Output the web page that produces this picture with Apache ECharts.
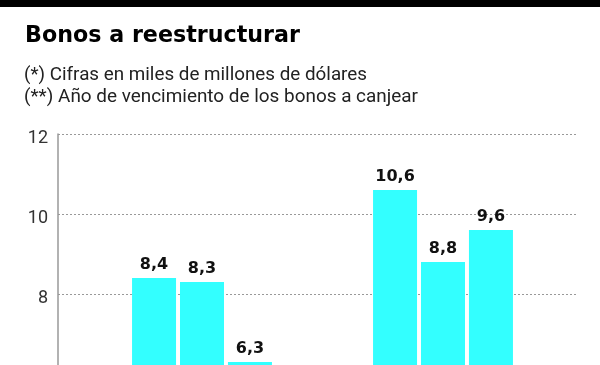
<!DOCTYPE html>
<html>
<head>
<meta charset="utf-8">
<script src="https://cdn.jsdelivr.net/npm/echarts@6/dist/echarts.min.js"></script>
<style>
html,body{margin:0;padding:0;background:#fff;}
#c{width:600px;height:365px;}
</style>
</head>
<body>
<div id="c"></div>
<script>
var titleText = "Bonos a reestructurar";
var subtitleLines = ["(*) Cifras en miles de millones de dólares", "(**) Año de vencimiento de los bonos a canjear"];
var categories = ["Grupo 1", "Grupo 2"];
var seriesA = [8.4, 10.6];
var seriesB = [8.3, 8.8];
var seriesC = [6.3, 9.6];
var yTicks = [6, 8, 10, 12];

var chart = echarts.init(document.getElementById('c'), null, {renderer: 'canvas'});
var ctx = document.createElement('canvas').getContext('2d');
function widthOf(text, font){ ctx.font = font; return ctx.measureText(text).width; }
var titleFont = 'bold 23px "DejaVu Sans", sans-serif';
var subFont = '18px Roboto, sans-serif';
var titleScale = 275 / widthOf(titleText, titleFont);
var sub1Scale = 343 / widthOf(subtitleLines[0], subFont);
var sub2Scale = 394 / widthOf(subtitleLines[1], subFont);
var barColor = '#33ffff';
function fmt(v){ return String(v).replace('.', ','); }
function mk(data){
  return {
    type: 'bar', xAxisIndex: 1, yAxisIndex: 1, data: data,
    barWidth: 44, barGap: '9%',
    itemStyle: {color: barColor},
    label: {show: true, position: 'top', distance: 5, color: '#111', fontFamily: '"DejaVu Sans", sans-serif',
      fontWeight: 'bold', fontSize: 16, formatter: function(p){ return fmt(p.value); }},
    silent: true
  };
}
chart.setOption({
  animation: false,
  graphic: [
    {type: 'rect', shape: {x: 0, y: 0, width: 600, height: 7}, style: {fill: '#000'}},
    {type: 'text', x: 25, y: 36, scaleX: titleScale, style: {text: titleText, font: titleFont, fill: '#000', verticalAlign: 'middle'}},
    {type: 'text', x: 24, y: 75, scaleX: sub1Scale, style: {text: subtitleLines[0], font: subFont, fill: '#222', verticalAlign: 'middle'}},
    {type: 'text', x: 24, y: 97, scaleX: sub2Scale, style: {text: subtitleLines[1], font: subFont, fill: '#222', verticalAlign: 'middle'}}
  ],
  grid: [
    {left: 58, right: 22, top: 134, height: 240, outerBoundsMode: 'none', containLabel: false},
    {left: 81.5, width: 482, top: 134, height: 240, outerBoundsMode: 'none', containLabel: false}
  ],
  xAxis: [
    {type: 'category', gridIndex: 0, data: categories, show: false},
    {type: 'category', gridIndex: 1, data: categories, axisLine: {show: false}, axisTick: {show: false}, axisLabel: {show: false}}
  ],
  yAxis: [
    {type: 'value', gridIndex: 0, min: yTicks[0], max: yTicks[yTicks.length-1], interval: 2,
      axisLine: {show: true, lineStyle: {color: '#999', width: 1.5}},
      axisTick: {show: false},
      axisLabel: {margin: 10, formatter: function(v){ return '{t|' + v + '}'; },
        rich: {t: {color: '#333', fontSize: 18, fontFamily: 'Roboto, sans-serif', padding: [9, 0, 0, 0]}}},
      splitLine: {show: true, lineStyle: {color: '#999', type: [2, 2], width: 1}}},
    {type: 'value', gridIndex: 1, min: yTicks[0], max: yTicks[yTicks.length-1], interval: 2, show: false, splitLine: {show: false}}
  ],
  series: [mk(seriesA), mk(seriesB), mk(seriesC)]
});
</script>
</body>
</html>
